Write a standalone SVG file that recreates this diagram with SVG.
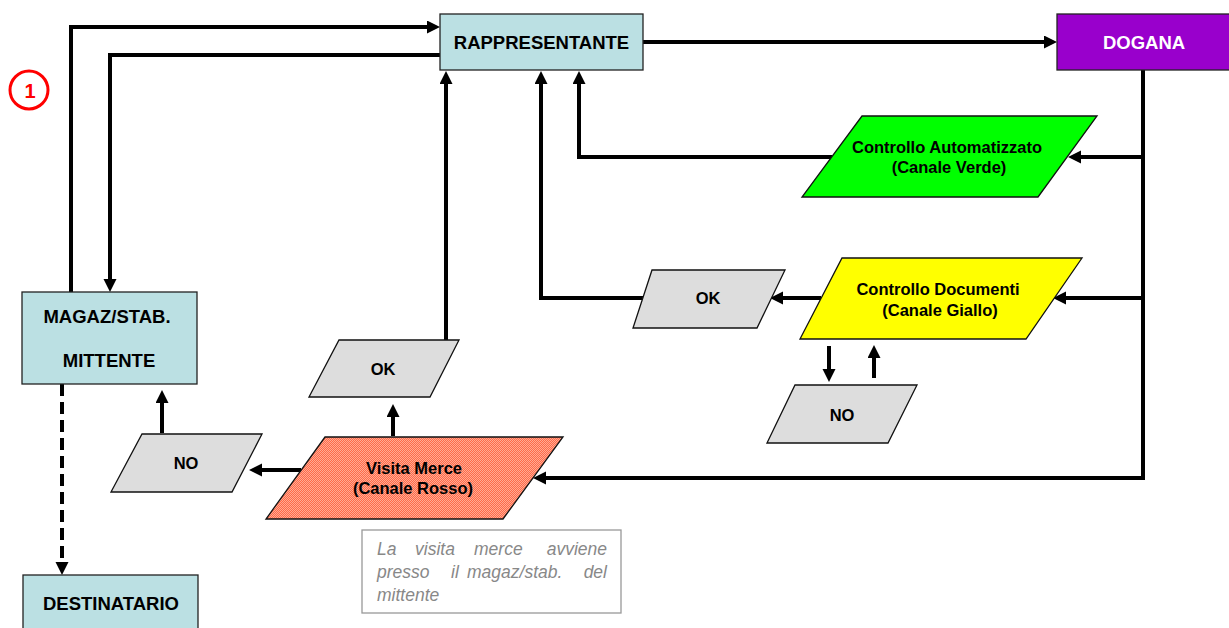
<svg xmlns="http://www.w3.org/2000/svg" width="1229" height="628" viewBox="0 0 1229 628">
  <defs>
    <marker id="arrow" markerUnits="userSpaceOnUse" markerWidth="14" markerHeight="14" refX="3" refY="6.5" orient="auto">
      <path d="M0,0 L13,6.5 L0,13 z" fill="#000"/>
    </marker>
    <!-- dithered salmon fill for the red channel -->
    <pattern id="dither" width="2" height="2" patternUnits="userSpaceOnUse">
      <rect width="2" height="2" fill="#FF6A48"/>
      <rect width="1" height="1" fill="#FFAA94"/>
      <rect x="1" y="1" width="1" height="1" fill="#FFAA94"/>
    </pattern>
  </defs>
  <style>
    .box { fill: #BBE0E3; stroke: #222; stroke-width: 1.3; }
    .para { stroke: #111; stroke-width: 1.3; }
    .grey { fill: #DDDDDD; }
    .lbl { font-family: "Liberation Sans", Arial, sans-serif; font-weight: bold; font-size: 18.5px; text-anchor: middle; fill: #000; }
    .plbl { font-family: "Liberation Sans", Arial, sans-serif; font-weight: bold; font-size: 16.5px; text-anchor: middle; fill: #000; }
    .conn { fill: none; stroke: #000; stroke-width: 4; stroke-linejoin: miter; stroke-linecap: butt; }
    .note { font-family: "Liberation Sans", Arial, sans-serif; font-style: italic; font-size: 17.5px; fill: #888; }
  </style>

  <rect width="1229" height="628" fill="#fff"/>

  <!-- step marker -->
  <g id="step1">
    <circle cx="29" cy="90" r="19" fill="none" stroke="#FF0000" stroke-width="3"/>
    <text x="30" y="97.5" font-family="Liberation Sans, Arial, sans-serif" font-weight="bold" font-size="20" fill="#FF0000" text-anchor="middle">1</text>
  </g>

  <!-- connectors -->
  <g id="connectors">
    <path class="conn" d="M71,292 V27 H430" marker-end="url(#arrow)"/>
    <path class="conn" d="M440,55 H110 V282" marker-end="url(#arrow)"/>
    <path class="conn" d="M643,42 H1047" marker-end="url(#arrow)"/>
    <path class="conn" d="M1143,70 V478 H543" marker-end="url(#arrow)"/>
    <path class="conn" d="M1143,157 H1078" marker-end="url(#arrow)"/>
    <path class="conn" d="M1143,298 H1063" marker-end="url(#arrow)"/>
    <path class="conn" d="M832,157 H579 V81" marker-end="url(#arrow)"/>
    <path class="conn" d="M821,298 H780" marker-end="url(#arrow)"/>
    <path class="conn" d="M643,298 H541 V81" marker-end="url(#arrow)"/>
    <path class="conn" d="M829,346 V372" marker-end="url(#arrow)"/>
    <path class="conn" d="M874,378 V355" marker-end="url(#arrow)"/>
    <path class="conn" d="M393,436 V414" marker-end="url(#arrow)"/>
    <path class="conn" d="M446,340 V81" marker-end="url(#arrow)"/>
    <path class="conn" d="M301,470 H259" marker-end="url(#arrow)"/>
    <path class="conn" d="M162,433 V400" marker-end="url(#arrow)"/>
    <path class="conn" d="M62,384 V565" stroke-dasharray="12 6" marker-end="url(#arrow)"/>
  </g>

  <g id="rappresentante">
    <rect class="box" x="440" y="14" width="203" height="56"/>
    <text class="lbl" x="541.5" y="48.5">RAPPRESENTANTE</text>
  </g>

  <g id="dogana">
    <rect x="1057" y="14" width="180" height="56" fill="#9900CC" stroke="#222" stroke-width="1.3"/>
    <text class="lbl" x="1144" y="48.5" style="fill:#fff">DOGANA</text>
  </g>

  <g id="magazzino">
    <rect class="box" x="22" y="292" width="175" height="92"/>
    <text class="lbl" x="107" y="323">MAGAZ/STAB.</text>
    <text class="lbl" x="109" y="367">MITTENTE</text>
  </g>

  <g id="destinatario">
    <rect class="box" x="23" y="575" width="175" height="70"/>
    <text class="lbl" x="111" y="610">DESTINATARIO</text>
  </g>

  <g id="canale-verde">
    <polygon class="para" points="862,116 1097,116 1038,197 802,197" fill="#00FF00"/>
    <text class="plbl" x="947" y="153">Controllo Automatizzato</text>
    <text class="plbl" x="949" y="173">(Canale Verde)</text>
  </g>

  <g id="canale-giallo">
    <polygon class="para" points="842,258 1082,258 1026,339 800,339" fill="#FFFF00"/>
    <text class="plbl" x="938" y="295">Controllo Documenti</text>
    <text class="plbl" x="940" y="316">(Canale Giallo)</text>
  </g>

  <g id="ok-giallo">
    <polygon class="para grey" points="652,270 785,270 757,328 633,328"/>
    <text class="plbl" x="708" y="304">OK</text>
  </g>

  <g id="no-giallo">
    <polygon class="para grey" points="795,385 917,385 888,443 767,443"/>
    <text class="plbl" x="842" y="421">NO</text>
  </g>

  <g id="canale-rosso">
    <polygon class="para" points="325,437 563,437 503,519 266,519" fill="url(#dither)"/>
    <text class="plbl" x="414" y="474">Visita Merce</text>
    <text class="plbl" x="413" y="494">(Canale Rosso)</text>
  </g>

  <g id="ok-rosso">
    <polygon class="para grey" points="339,340 459,340 430,397 309,397"/>
    <text class="plbl" x="383" y="375">OK</text>
  </g>

  <g id="no-rosso">
    <polygon class="para grey" points="142,434 262,434 232,492 111,492"/>
    <text class="plbl" x="186" y="469">NO</text>
  </g>

  <g id="nota">
    <rect x="362" y="530" width="259" height="83" fill="#fff" stroke="#999" stroke-width="1.3"/>
    <text class="note" x="377" y="555">La</text>
    <text class="note" x="415" y="555">visita</text>
    <text class="note" x="474" y="555">merce</text>
    <text class="note" x="607" y="555" text-anchor="end">avviene</text>
    <text class="note" x="377" y="578">presso</text>
    <text class="note" x="451" y="578">il</text>
    <text class="note" x="467" y="578">magaz/stab.</text>
    <text class="note" x="607" y="578" text-anchor="end">del</text>
    <text class="note" x="377" y="601">mittente</text>
  </g>
</svg>
